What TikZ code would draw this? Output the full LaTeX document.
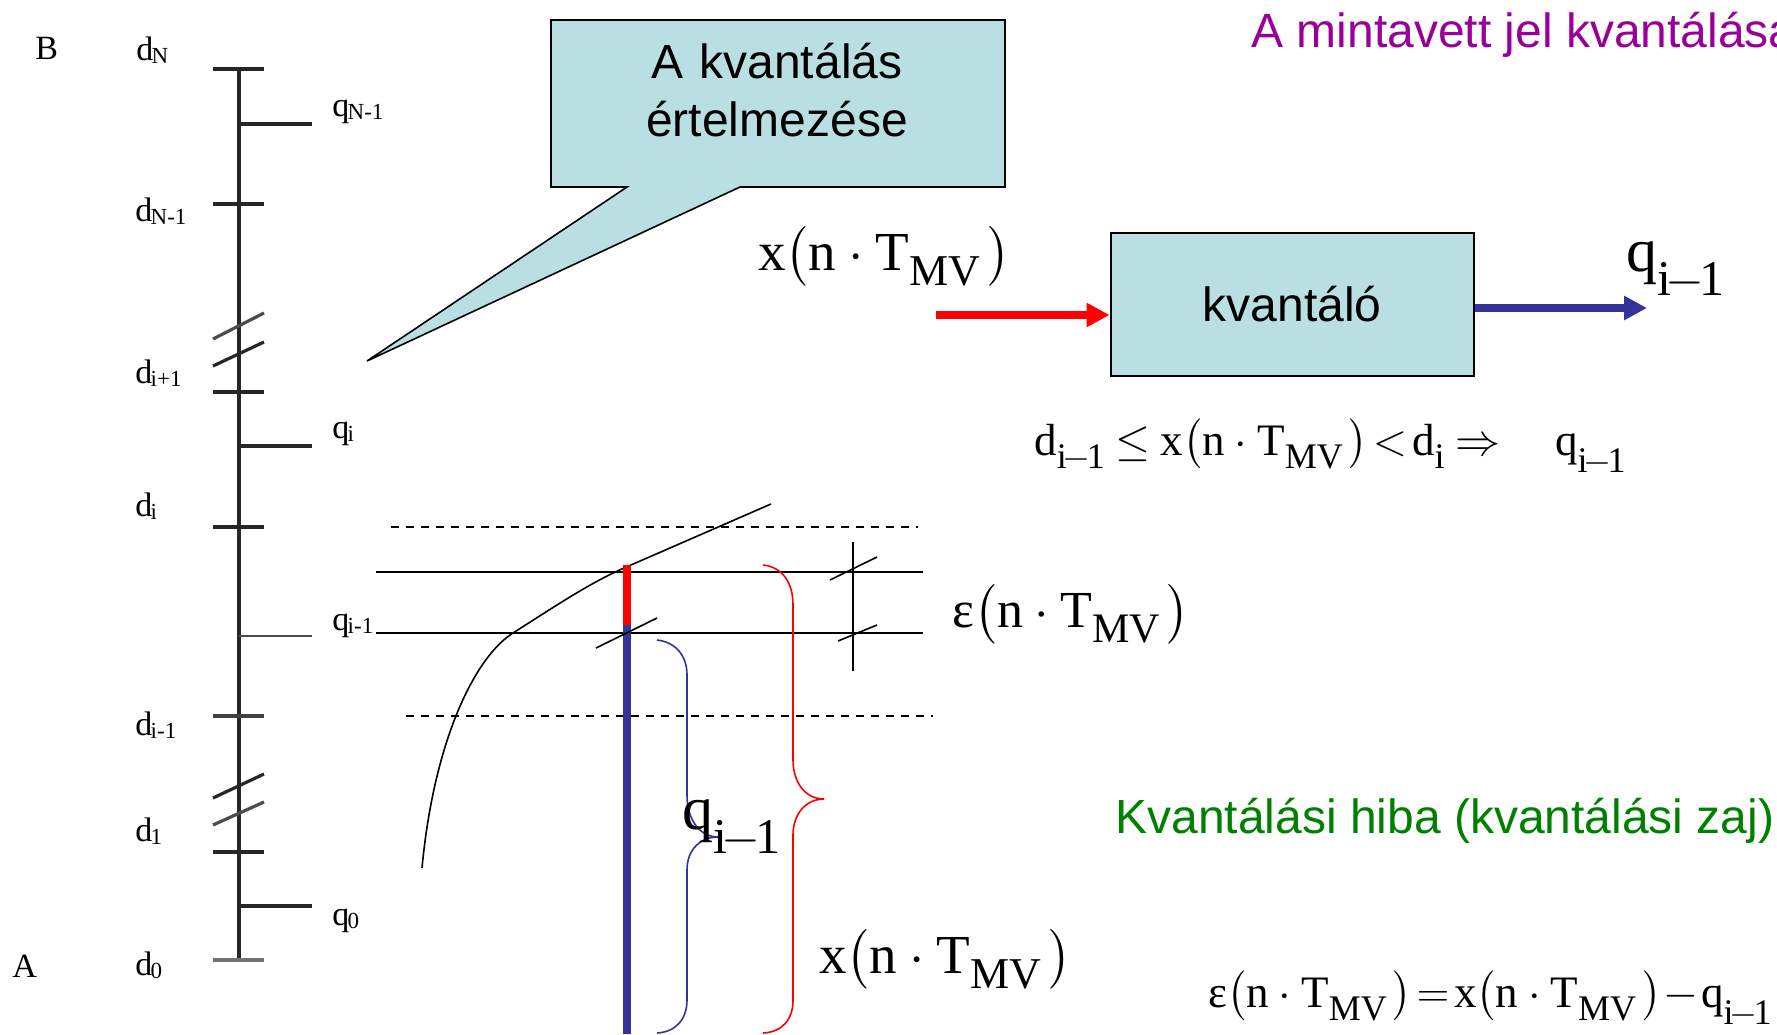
\documentclass[tikz,border=0pt]{standalone}
\usepackage{fix-cm}
\usepackage{amsmath}
\usepackage{fontspec}
\setmainfont{Liberation Serif}
\newfontfamily\hvfont{Liberation Sans}
\usetikzlibrary{arrows.meta}
\definecolor{boxfill}{RGB}{185,223,226}
\definecolor{barblue}{RGB}{51,51,153}
\definecolor{titlecol}{RGB}{153,0,153}
\definecolor{noisecol}{RGB}{0,128,0}
\DeclareMathSizes{31}{31}{25}{18}
\DeclareMathSizes{27.5}{27.5}{22}{16}
\DeclareMathSizes{26}{26}{21}{15}
\DeclareMathSizes{22.5}{22.5}{18}{14}
\thickmuskip=2mu
\medmuskip=1mu
\newcommand{\sizept}[1]{\fontsize{#1}{#1}\selectfont}
\newcommand{\lab}[2]{#1\kern-0.05em\raisebox{-0.1em}{\sizept{11.5}#2}}
\newcommand{\dsub}[1]{\raisebox{-0.14em}{$\scriptstyle #1$}}
\newcommand{\imone}{\dsub{\text{i}\mkern-2mu{-}\mkern-2mu\text{1}}}
\newcommand{\qsub}{\text{q}_{\imone}}
\newcommand{\nterm}{\bigl(\text{n}\mkern3mu\cdot\mkern3mu\text{T}_{\dsub{\text{MV}}}\mkern2mu\bigr)}
\newcommand{\xsig}{\text{x}\nterm}
\newcommand{\esig}{\text{ε}\nterm}
\begin{document}
\begin{tikzpicture}[x=0.5pt, y=-0.5pt,
  tick/.style={line width=1.6pt, black!85},
  hair/.style={line width=0.8pt},
  shortdash/.style={hair, dash pattern=on 4pt off 3.5pt},
  lab/.style={anchor=base west, inner sep=0pt, font=\sizept{17}},
  sans/.style={inner sep=0pt, font=\hvfont\sizept{24}},
  bigf/.style={anchor=base west, inner sep=0pt, font=\fontsize{27.5}{40}\selectfont},
  bigq/.style={anchor=base west, inner sep=0pt, font=\fontsize{31}{40}\selectfont},
  epsf/.style={anchor=base west, inner sep=0pt, font=\fontsize{26}{40}\selectfont},
  midf/.style={anchor=base west, inner sep=0pt, font=\fontsize{22.5}{34}\selectfont},
  sigarrow/.style={line width=3.8pt, -{Triangle[length=11.5pt, width=11.5pt]}}]
\useasboundingbox (0,0) rectangle (1777,1034);
% scale on the left
\draw[tick] (239,69) -- (239,960);
\draw[tick] (213,69) -- (264,69);
\draw[tick] (239,124) -- (312,124);
\draw[tick] (213,204) -- (264,204);
\draw[tick, black!70] (213,339) -- (264,313);
\draw[tick] (213,366) -- (264,342);
\draw[tick] (213,392) -- (264,392);
\draw[tick] (239,446) -- (312,446);
\draw[tick] (213,527) -- (264,527);
\draw[tick, line width=1.1pt, black!70] (239,636) -- (312,636);
\draw[tick, black!75] (213,716) -- (264,716);
\draw[tick] (213,798) -- (264,774);
\draw[tick, black!70] (213,825) -- (264,802);
\draw[tick] (213,852) -- (264,852);
\draw[tick] (239,906) -- (312,906);
\draw[tick, line width=2.4pt, black!55] (213,960) -- (264,960);
\node[lab] (B) at (35,59) {B};
\node[lab] (A) at (12,977) {A};
\node[lab] (dN) at (136,60) {\lab{d}{N}};
\node[lab] (qNm) at (332,116) {\lab{q}{N-1}};
\node[lab] (dNm) at (135,221) {\lab{d}{N-1}};
\node[lab] (dip) at (135,383) {\lab{d}{i+1}};
\node[lab] (qi) at (332,438) {\lab{q}{i}};
\node[lab] (di) at (135,516) {\lab{d}{i}};
\node[lab] (qim) at (332,630) {\lab{q}{i-1}};
\node[lab] (dim) at (135,735) {\lab{d}{i-1}};
\node[lab] (done) at (135,841) {\lab{d}{1}};
\node[lab] (qzero) at (332,925) {\lab{q}{0}};
\node[lab] (dzero) at (135,975) {\lab{d}{0}};
% callout
\draw[hair, fill=boxfill] (551,20) -- (1005,20) -- (1005,187) -- (740,187) -- (367,361) -- (627,187) -- (551,187) -- cycle;
\node[sans, align=center, text width=440pt, text centered] (calltext) at (777,90) {A kvantálás\\[5pt]értelmezése};
% title
\node[sans, anchor=base west] (title) at (1251,47) {\color{titlecol}A mintavett jel kvantálása};
% quantizer block
\node[draw, line width=1pt, fill=boxfill, minimum width=181.5pt, minimum height=71.5pt, inner sep=0pt, font=\hvfont\sizept{24}] (kvant) at (1292,304) {kvantáló};
\coordinate (xin) at (936,315);
\coordinate (qout) at (1647,308);
\draw[sigarrow, red] (xin) -- (xin -| kvant.west);
\draw[sigarrow, barblue] (qout -| kvant.east) -- (qout);
\node[bigf] (xtop) at (758,270) {$\xsig$};
\node[bigq] (qtop) at (1626,271) {$\qsub$};
\node[midf] (rule) at (1034,455) {$\text{d}_{\imone}\mkern2mu\le\mkern2mu\xsig<\text{d}_{\dsub{\text{i}}}\mkern2mu\Rightarrow\hspace{1.1em}\qsub$};
% error part
\draw[shortdash] (391,527) -- (918,527);
\draw[shortdash] (406,716) -- (933,716);
\draw[hair] (376,572) -- (923,572);
\draw[hair] (376,633) -- (923,633);
\draw[hair] (422,868) .. controls (434,740) and (475,657) .. (513,633) .. controls (560,603) and (590,583) .. (624,568) -- (771,504);
\draw[line width=3.8pt, red] (627,565) -- (627,625);
\draw[line width=3.8pt, barblue] (627,625) -- (627,1034);
\draw[hair] (596,648) -- (657,618);
\draw[hair] (853,542) -- (853,671);
\draw[hair] (830,580) -- (877,557);
\draw[hair] (838,641) -- (877,625);
% braces
\draw[hair, barblue] (657,640) .. controls (675,642) and (687,655) .. (687,675) -- (687,795) .. controls (687,820) and (700,837) .. (718,837) .. controls (700,837) and (687,850) .. (687,870) -- (687,1000) .. controls (687,1020) and (675,1032) .. (657,1033);
\draw[hair, red] (763,565) .. controls (782,567) and (793,582) .. (793,605) -- (793,760) .. controls (793,782) and (805,799) .. (824,799) .. controls (805,799) and (793,815) .. (793,835) -- (793,1000) .. controls (793,1020) and (782,1032) .. (763,1033);
\node[bigq] (qmid) at (682,829) {$\qsub$};
\node[bigf] (xbot) at (819,973) {$\xsig$};
\node[epsf] (eps) at (952,627) {$\esig$};
\node[sans, anchor=base west] (noise) at (1115,833) {\color{noisecol}Kvantálási hiba (kvantálási zaj)};
\node[midf] (errdef) at (1208,1007) {$\esig=\xsig-\qsub$};
\end{tikzpicture}
\end{document}
